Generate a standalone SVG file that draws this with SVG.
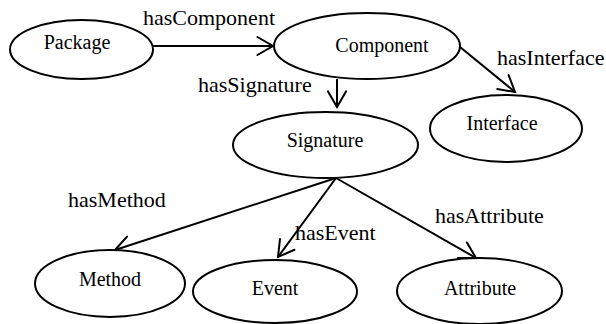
<svg xmlns="http://www.w3.org/2000/svg" width="606" height="324" viewBox="0 0 606 324">
  <style>
    .node ellipse { fill: #ffffff; stroke: #000000; stroke-width: 2; }
    .node text { font-size: 20px; fill: #000000; text-anchor: middle; }
    .edges line { stroke: #000000; stroke-width: 2; fill: none; marker-end: url(#open-arrow); }
    .label { font-size: 22px; fill: #000000; }
  </style>
  <defs>
    <marker id="open-arrow" markerUnits="userSpaceOnUse" markerWidth="24" markerHeight="24" viewBox="-20 -12 24 24" refX="0" refY="0" orient="auto" overflow="visible">
      <path d="M -15.6 -9 L 0 0 L -15.6 9" fill="none" stroke="#000000" stroke-width="2" stroke-linecap="round" stroke-linejoin="miter"/>
    </marker>
  </defs>
  <rect width="606" height="324" fill="#ffffff"/>

  <g id="edges" class="edges">
    <line x1="153" y1="46" x2="273" y2="46"/>
    <line x1="337" y1="79" x2="337" y2="107"/>
    <line x1="460" y1="47" x2="515" y2="92"/>
    <line x1="336" y1="178" x2="115" y2="250"/>
    <line x1="336" y1="178" x2="278" y2="257"/>
    <line x1="336" y1="178" x2="476" y2="258"/>
  </g>

  <g font-family="Liberation Serif, serif">
    <g id="edge-labels">
      <text class="label" x="143" y="25">hasComponent</text>
      <text class="label" x="198" y="92">hasSignature</text>
      <text class="label" x="497" y="65">hasInterface</text>
      <text class="label" x="68" y="207">hasMethod</text>
      <text class="label" x="295" y="240">hasEvent</text>
      <text class="label" x="435" y="223">hasAttribute</text>
    </g>

    <g id="package" class="node">
      <ellipse cx="81.5" cy="49.5" rx="71.5" ry="29.5"/>
      <text x="77" y="49">Package</text>
    </g>
    <g id="component" class="node">
      <ellipse cx="367" cy="46" rx="93" ry="33"/>
      <text x="382" y="52">Component</text>
    </g>
    <g id="interface" class="node">
      <ellipse cx="506" cy="128.5" rx="76" ry="33.5"/>
      <text x="502" y="130">Interface</text>
    </g>
    <g id="signature" class="node">
      <ellipse cx="325.5" cy="145" rx="92.5" ry="33"/>
      <text x="325" y="147">Signature</text>
    </g>
    <g id="method" class="node">
      <ellipse cx="110" cy="283.5" rx="75" ry="33.5"/>
      <text x="110" y="286">Method</text>
    </g>
    <g id="event" class="node">
      <ellipse cx="275" cy="291.5" rx="82" ry="31.5"/>
      <text x="275" y="295">Event</text>
    </g>
    <g id="attribute" class="node">
      <ellipse cx="479.5" cy="291" rx="82.5" ry="33"/>
      <text x="480" y="295">Attribute</text>
    </g>
  </g>
</svg>
